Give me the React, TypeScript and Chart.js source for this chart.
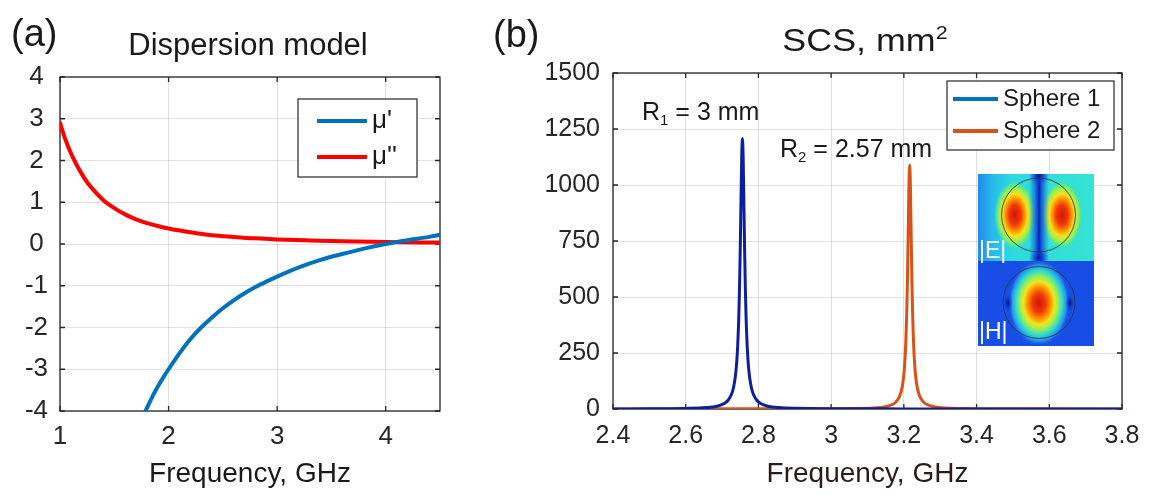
import React, { useEffect, useRef } from 'react';
import { Chart, registerables } from 'chart.js';

Chart.register(...registerables);

const FONT = "'Liberation Sans', Arial, Helvetica, sans-serif";
Chart.defaults.font.family = FONT;

// ---------- Panel (a): dispersion model ----------
const muRealFreq = [1.7, 1.75, 1.8, 1.85, 1.9, 1.95, 2.0, 2.1, 2.2, 2.3, 2.4, 2.5, 2.6, 2.7, 2.8, 2.9, 3.0, 3.2, 3.4, 3.6, 3.8, 4.0, 4.2, 4.4, 4.5];
const muReal = [-4.5, -4.2, -3.93, -3.66, -3.42, -3.2, -3.0, -2.62, -2.28, -2.0, -1.76, -1.54, -1.35, -1.18, -1.03, -0.9, -0.78, -0.56, -0.38, -0.24, -0.11, 0.0, 0.09, 0.17, 0.22];
const muImagFreq = [1.0, 1.05, 1.1, 1.15, 1.2, 1.25, 1.3, 1.4, 1.5, 1.6, 1.7, 1.8, 1.9, 2.0, 2.2, 2.4, 2.6, 2.8, 3.0, 3.3, 3.6, 4.0, 4.5];
const muImag = [2.9, 2.5, 2.18, 1.91, 1.68, 1.48, 1.32, 1.05, 0.86, 0.71, 0.59, 0.5, 0.43, 0.37, 0.28, 0.21, 0.17, 0.135, 0.11, 0.085, 0.065, 0.048, 0.033];
const seriesNamesA = ["μ'", "μ''"];
const xTicksA = [1, 2, 3, 4];
const xTickLabelsA = ['1', '2', '3', '4'];
const yTicksA = [-4, -3, -2, -1, 0, 1, 2, 3, 4];
const yTickLabelsA = ['-4', '-3', '-2', '-1', '0', '1', '2', '3', '4'];

// ---------- Panel (b): SCS ----------
const sphere1Freq = [2.4, 2.5, 2.6, 2.656, 2.686, 2.706, 2.716, 2.726, 2.731, 2.736, 2.740, 2.743, 2.746, 2.748, 2.750, 2.752, 2.754, 2.756, 2.758, 2.760, 2.762, 2.764, 2.766, 2.769, 2.772, 2.776, 2.781, 2.786, 2.796, 2.806, 2.826, 2.856, 2.906, 3.0, 3.2, 3.5, 3.8];
const sphere1SCS = [0.4, 0.8, 2.6, 6.2, 12.6, 24.5, 37.9, 65.8, 92.5, 139, 203, 284, 412, 541, 713, 923, 1121, 1208, 1121, 923, 713, 541, 412, 284, 203, 139, 92.5, 65.8, 37.9, 24.5, 12.6, 6.2, 2.8, 1.2, 0.5, 0.2, 0.1];
const sphere2Freq = [2.4, 2.7, 2.8, 3.0, 3.066, 3.116, 3.146, 3.166, 3.176, 3.186, 3.191, 3.196, 3.200, 3.203, 3.206, 3.208, 3.210, 3.212, 3.214, 3.216, 3.218, 3.220, 3.222, 3.224, 3.226, 3.229, 3.232, 3.236, 3.241, 3.246, 3.256, 3.266, 3.286, 3.316, 3.366, 3.5, 3.8];
const sphere2SCS = [0.3, 0.6, 0.8, 1.0, 2.0, 4.6, 9.3, 18.1, 28, 48.8, 69, 104, 154, 218, 323, 433, 588, 790, 995, 1089, 995, 790, 588, 433, 323, 218, 154, 104, 69, 48.8, 28, 18.1, 9.3, 4.6, 2.0, 0.8, 0.3];
const seriesNamesB = ['Sphere 1', 'Sphere 2'];
const xTicksB = [2.4, 2.6, 2.8, 3.0, 3.2, 3.4, 3.6, 3.8];
const xTickLabelsB = ['2.4', '2.6', '2.8', '3', '3.2', '3.4', '3.6', '3.8'];
const yTicksB = [0, 250, 500, 750, 1000, 1250, 1500];
const yTickLabelsB = ['0', '250', '500', '750', '1000', '1250', '1500'];

const AXIS_COLOR = '#262626';
const GRID_COLOR = 'rgba(0,0,0,0.12)';
const TEXT_COLOR = '#1a1a1a';

type Part = { t: string; sub?: boolean; sup?: boolean };
type TextItem = { parts: Part[]; x: number; y: number; size: number; align: 'left' | 'center'; color?: string; scaleX?: number };

function drawRich(ctx: CanvasRenderingContext2D, item: TextItem) {
  const small = item.size * 0.6;
  const widths = item.parts.map((p) => {
    ctx.font = `${p.sub || p.sup ? small : item.size}px ${FONT}`;
    return ctx.measureText(p.t).width;
  });
  const total = widths.reduce((a, b) => a + b, 0);
  ctx.save();
  ctx.translate(item.x, item.y);
  ctx.scale(item.scaleX || 1, 1);
  ctx.textBaseline = 'alphabetic';
  ctx.textAlign = 'left';
  ctx.fillStyle = item.color || TEXT_COLOR;
  let cx = item.align === 'center' ? -total / 2 : 0;
  item.parts.forEach((p, i) => {
    ctx.font = `${p.sub || p.sup ? small : item.size}px ${FONT}`;
    const dy = p.sub ? item.size * 0.2 : p.sup ? -item.size * 0.37 : 0;
    ctx.fillText(p.t, cx, dy);
    cx += widths[i];
  });
  ctx.restore();
}

function framePlugin(tickLen: number) {
  return {
    id: 'frame',
    beforeDatasetsDraw(chart: any) {
      const { ctx, chartArea: a, scales } = chart;
      ctx.save();
      ctx.strokeStyle = AXIS_COLOR;
      ctx.lineWidth = 1.3;
      ctx.strokeRect(a.left, a.top, a.right - a.left, a.bottom - a.top);
      ctx.beginPath();
      scales.x.ticks.forEach((t: any) => {
        const px = scales.x.getPixelForValue(t.value);
        ctx.moveTo(px, a.bottom); ctx.lineTo(px, a.bottom - tickLen);
        ctx.moveTo(px, a.top); ctx.lineTo(px, a.top + tickLen);
      });
      scales.y.ticks.forEach((t: any) => {
        const py = scales.y.getPixelForValue(t.value);
        ctx.moveTo(a.left, py); ctx.lineTo(a.left + tickLen, py);
        ctx.moveTo(a.right, py); ctx.lineTo(a.right - tickLen, py);
      });
      ctx.stroke();
      ctx.restore();
    },
  };
}

function textPlugin(items: TextItem[]) {
  return {
    id: 'texts',
    afterDraw(chart: any) {
      items.forEach((it) => drawRich(chart.ctx, it));
    },
  };
}

type LegendCfg = { box: [number, number, number, number]; lineX: [number, number]; textX: number; ys: number[]; labels: string[]; colors: string[]; size: number; lineWidth: number };

function legendPlugin(cfg: LegendCfg) {
  return {
    id: 'customLegend',
    afterDatasetsDraw(chart: any) {
      const ctx = chart.ctx as CanvasRenderingContext2D;
      const [x, y, w, h] = cfg.box;
      ctx.save();
      ctx.fillStyle = '#ffffff';
      ctx.fillRect(x, y, w, h);
      ctx.strokeStyle = AXIS_COLOR;
      ctx.lineWidth = 1.2;
      ctx.strokeRect(x, y, w, h);
      cfg.labels.forEach((lab, i) => {
        ctx.strokeStyle = cfg.colors[i];
        ctx.lineWidth = cfg.lineWidth;
        ctx.beginPath();
        ctx.moveTo(cfg.lineX[0], cfg.ys[i]);
        ctx.lineTo(cfg.lineX[1], cfg.ys[i]);
        ctx.stroke();
        ctx.fillStyle = TEXT_COLOR;
        ctx.font = `${cfg.size}px ${FONT}`;
        ctx.textAlign = 'left';
        ctx.textBaseline = 'middle';
        ctx.fillText(lab, cfg.textX, cfg.ys[i]);
      });
      ctx.restore();
    },
  };
}

function lobe(ctx: CanvasRenderingContext2D, cx: number, cy: number, rx: number, ry: number, stops: [number, string][]) {
  ctx.save();
  ctx.translate(cx, cy);
  ctx.scale(rx, ry);
  const g = ctx.createRadialGradient(0, 0, 0, 0, 0, 1);
  stops.forEach(([o, c]) => g.addColorStop(o, c));
  ctx.fillStyle = g;
  ctx.beginPath();
  ctx.arc(0, 0, 1, 0, Math.PI * 2);
  ctx.fill();
  ctx.restore();
}

const E_STOPS: [number, string][] = [
  [0, 'rgb(205,25,10)'], [0.28, 'rgb(240,55,10)'], [0.45, 'rgb(255,140,0)'], [0.6, 'rgb(245,225,25)'],
  [0.75, 'rgb(160,240,80)'], [0.88, 'rgb(80,228,160)'], [1, 'rgba(45,222,215,0)'],
];
const H_STOPS: [number, string][] = [
  [0, 'rgb(205,20,5)'], [0.22, 'rgb(240,60,10)'], [0.38, 'rgb(255,150,0)'], [0.5, 'rgb(240,230,30)'],
  [0.62, 'rgb(150,240,90)'], [0.75, 'rgb(50,220,200)'], [0.88, 'rgb(35,150,240)'], [1, 'rgba(25,80,230,0)'],
];

function insetPlugin() {
  return {
    id: 'inset',
    afterDatasetsDraw(chart: any) {
      const ctx = chart.ctx as CanvasRenderingContext2D;
      const L = 498, R = 614, T = 174, M = 261, B = 346;
      // |E| panel
      ctx.save();
      ctx.beginPath(); ctx.rect(L, T, R - L, M - T); ctx.clip();
      const bg = ctx.createLinearGradient(L, 0, R, 0);
      bg.addColorStop(0, 'rgb(35,135,240)');
      bg.addColorStop(0.12, 'rgb(40,185,235)');
      bg.addColorStop(0.3, 'rgb(45,218,222)');
      bg.addColorStop(1, 'rgb(52,228,210)');
      ctx.fillStyle = bg; ctx.fillRect(L, T, R - L, M - T);
      lobe(ctx, 535, 215, 21, 35, E_STOPS);
      lobe(ctx, 582, 215, 21, 35, E_STOPS);
      const sg = ctx.createLinearGradient(549, 0, 569, 0);
      sg.addColorStop(0, 'rgba(20,90,225,0)');
      sg.addColorStop(0.38, 'rgba(15,60,210,0.8)');
      sg.addColorStop(0.5, 'rgba(5,30,185,1)');
      sg.addColorStop(0.62, 'rgba(15,60,210,0.8)');
      sg.addColorStop(1, 'rgba(20,90,225,0)');
      ctx.fillStyle = sg; ctx.fillRect(549, T, 20, M - T);
      lobe(ctx, 559, T + 2, 10, 10, [[0, 'rgba(5,25,180,1)'], [1, 'rgba(20,90,225,0)']]);
      lobe(ctx, 559, M - 3, 10, 10, [[0, 'rgba(5,25,180,1)'], [1, 'rgba(20,90,225,0)']]);
      ctx.strokeStyle = 'rgba(40,55,55,0.85)'; ctx.lineWidth = 1;
      ctx.beginPath(); ctx.arc(558.5, 215, 37, 0, Math.PI * 2); ctx.stroke();
      ctx.restore();
      // |H| panel
      ctx.save();
      ctx.beginPath(); ctx.rect(L, M, R - L, B - M); ctx.clip();
      ctx.fillStyle = 'rgb(25,78,230)'; ctx.fillRect(L, M, R - L, B - M);
      lobe(ctx, 559, 303, 31, 43, H_STOPS);
      lobe(ctx, 528, 303, 5, 10, [[0, 'rgba(5,15,140,1)'], [1, 'rgba(25,78,230,0)']]);
      lobe(ctx, 590, 303, 5, 10, [[0, 'rgba(5,15,140,1)'], [1, 'rgba(25,78,230,0)']]);
      ctx.strokeStyle = 'rgba(40,55,55,0.85)'; ctx.lineWidth = 1;
      ctx.beginPath(); ctx.arc(559, 302.5, 36, 0, Math.PI * 2); ctx.stroke();
      ctx.restore();
      // labels
      ctx.save();
      ctx.fillStyle = '#ffffff';
      ctx.font = `23px ${FONT}`;
      ctx.textAlign = 'left';
      ctx.textBaseline = 'alphabetic';
      ctx.fillText('|E|', 499, 258);
      ctx.fillText('|H|', 499, 339);
      ctx.restore();
    },
  };
}

function pts(xs: number[], ys: number[]) {
  return xs.map((x, i) => ({ x, y: ys[i] }));
}

const lineStyle = { pointRadius: 0, fill: false, borderJoinStyle: 'round', borderCapStyle: 'round', cubicInterpolationMode: 'monotone' };

function makeChartA(canvas: HTMLCanvasElement) {
  return new Chart(canvas, {
    type: 'line',
    data: {
      datasets: [
        { label: seriesNamesA[0], data: pts(muRealFreq, muReal), borderColor: '#0072bd', borderWidth: 4, ...lineStyle },
        { label: seriesNamesA[1], data: pts(muImagFreq, muImag), borderColor: '#ff0000', borderWidth: 4, ...lineStyle },
      ],
    },
    options: {
      responsive: false,
      animation: false,
      devicePixelRatio: 1,
      layout: { padding: { top: 77, right: 50, left: 0, bottom: 0 } },
      plugins: { legend: { display: false }, tooltip: { enabled: false }, title: { display: false } },
      scales: {
        x: {
          type: 'linear', min: 1, max: 4.5,
          afterBuildTicks: (s: any) => { s.ticks = xTicksA.map((v) => ({ value: v })); },
          afterFit: (s: any) => { s.height = 84; },
          grid: { color: GRID_COLOR, drawTicks: false, lineWidth: 1 },
          border: { display: false },
          ticks: { padding: 10, color: AXIS_COLOR, autoSkip: false, maxRotation: 0, font: { size: 26, lineHeight: 1.2 }, callback: (_v: any, i: number) => xTickLabelsA[i] },
          title: { display: true, text: 'Frequency, GHz', color: TEXT_COLOR, font: { size: 28, lineHeight: 1.2 }, padding: { top: 0, bottom: 4 } },
        },
        y: {
          type: 'linear', min: -4, max: 4,
          afterBuildTicks: (s: any) => { s.ticks = yTicksA.map((v) => ({ value: v })); },
          afterFit: (s: any) => { s.width = 60; },
          grid: { color: GRID_COLOR, drawTicks: false, lineWidth: 1 },
          border: { display: false },
          ticks: { padding: 12, crossAlign: 'center', color: AXIS_COLOR, autoSkip: false, font: { size: 26 }, callback: (_v: any, i: number) => yTickLabelsA[i] },
        },
      },
    } as any,
    plugins: [
      framePlugin(5),
      legendPlugin({ box: [298, 99, 119, 78], lineX: [317, 367], textX: 372, ys: [121, 157], labels: seriesNamesA, colors: ['#0072bd', '#ff0000'], size: 26, lineWidth: 4 }),
      textPlugin([
        { parts: [{ t: '(a)' }], x: 11, y: 46, size: 38, align: 'left' },
        { parts: [{ t: 'Dispersion model' }], x: 248, y: 55, size: 31, align: 'center' },
      ]),
    ],
  } as any);
}

function makeChartB(canvas: HTMLCanvasElement) {
  return new Chart(canvas, {
    type: 'line',
    data: {
      datasets: [
        { label: seriesNamesB[0], data: pts(sphere1Freq, sphere1SCS), borderColor: '#0d1f9e', borderWidth: 3, ...lineStyle },
        { label: seriesNamesB[1], data: pts(sphere2Freq, sphere2SCS), borderColor: '#d95319', borderWidth: 3, ...lineStyle },
      ],
    },
    options: {
      responsive: false,
      animation: false,
      devicePixelRatio: 1,
      layout: { padding: { top: 73, right: 33, left: 0, bottom: 0 } },
      plugins: { legend: { display: false }, tooltip: { enabled: false }, title: { display: false } },
      scales: {
        x: {
          type: 'linear', min: 2.4, max: 3.8,
          afterBuildTicks: (s: any) => { s.ticks = xTicksB.map((v) => ({ value: v })); },
          afterFit: (s: any) => { s.height = 86; },
          grid: { color: GRID_COLOR, drawTicks: false, lineWidth: 1 },
          border: { display: false },
          ticks: { padding: 12, color: AXIS_COLOR, autoSkip: false, maxRotation: 0, font: { size: 25, lineHeight: 1.2 }, callback: (_v: any, i: number) => xTickLabelsB[i] },
          title: { display: true, text: 'Frequency, GHz', color: '#2a1c1c', font: { size: 28, lineHeight: 1.2 }, padding: { top: 0, bottom: 4 } },
        },
        y: {
          type: 'linear', min: 0, max: 1500,
          afterBuildTicks: (s: any) => { s.ticks = yTicksB.map((v) => ({ value: v })); },
          afterFit: (s: any) => { s.width = 133; },
          grid: { color: GRID_COLOR, drawTicks: false, lineWidth: 1 },
          border: { display: false },
          ticks: { padding: 13, color: AXIS_COLOR, autoSkip: false, font: { size: 25 }, callback: (_v: any, i: number) => yTickLabelsB[i] },
        },
      },
    } as any,
    plugins: [
      framePlugin(5),
      insetPlugin(),
      legendPlugin({ box: [467, 81, 167, 69], lineX: [473, 518], textX: 523, ys: [99, 131], labels: seriesNamesB, colors: ['#0072bd', '#d95319'], size: 24, lineWidth: 4 }),
      textPlugin([
        { parts: [{ t: '(b)' }], x: 13, y: 47, size: 38, align: 'left' },
        { parts: [{ t: 'SCS, mm' }, { t: '2', sup: true }], x: 385, y: 51, size: 32, align: 'center', scaleX: 1.12 },
        { parts: [{ t: 'R' }, { t: '1', sub: true }, { t: ' = 3 mm' }], x: 162, y: 120, size: 25, align: 'left' },
        { parts: [{ t: 'R' }, { t: '2', sub: true }, { t: ' = 2.57 mm' }], x: 300, y: 157, size: 25, align: 'left' },
      ]),
    ],
  } as any);
}

export default function App() {
  const refA = useRef<HTMLCanvasElement>(null);
  const refB = useRef<HTMLCanvasElement>(null);
  useEffect(() => {
    const a = makeChartA(refA.current as HTMLCanvasElement);
    const b = makeChartB(refB.current as HTMLCanvasElement);
    return () => {
      a.destroy();
      b.destroy();
    };
  }, []);
  return (
    <div style={{ position: 'fixed', left: 0, top: 0, width: 1155, height: 495, background: '#ffffff', overflow: 'hidden' }}>
      <canvas ref={refA} width={490} height={495} style={{ position: 'absolute', left: 0, top: 0, width: 490, height: 495 }} />
      <canvas ref={refB} width={675} height={495} style={{ position: 'absolute', left: 480, top: 0, width: 675, height: 495 }} />
    </div>
  );
}
